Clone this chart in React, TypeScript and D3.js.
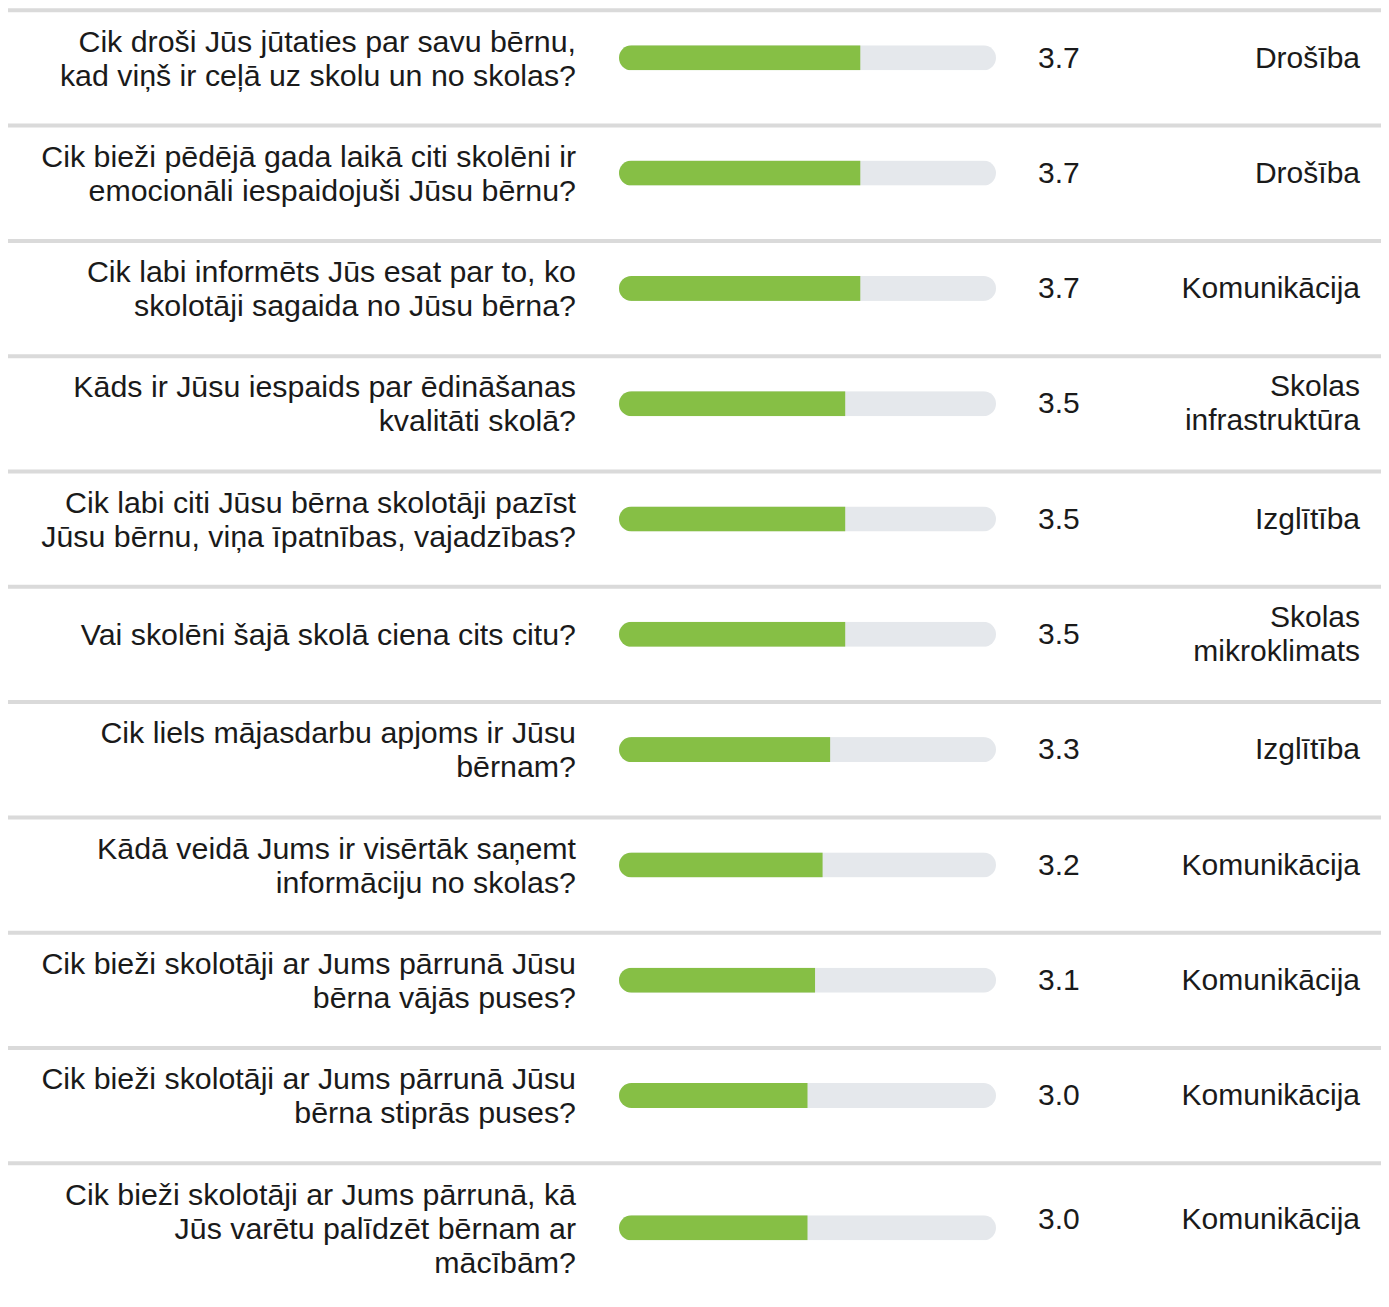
import React from "react";
import * as d3 from "d3";

const questions: string[] = [
  "Cik droši Jūs jūtaties par savu bērnu,\nkad viņš ir ceļā uz skolu un no skolas?",
  "Cik bieži pēdējā gada laikā citi skolēni ir\nemocionāli iespaidojuši Jūsu bērnu?",
  "Cik labi informēts Jūs esat par to, ko\nskolotāji sagaida no Jūsu bērna?",
  "Kāds ir Jūsu iespaids par ēdināšanas\nkvalitāti skolā?",
  "Cik labi citi Jūsu bērna skolotāji pazīst\nJūsu bērnu, viņa īpatnības, vajadzības?",
  "Vai skolēni šajā skolā ciena cits citu?",
  "Cik liels mājasdarbu apjoms ir Jūsu\nbērnam?",
  "Kādā veidā Jums ir visērtāk saņemt\ninformāciju no skolas?",
  "Cik bieži skolotāji ar Jums pārrunā Jūsu\nbērna vājās puses?",
  "Cik bieži skolotāji ar Jums pārrunā Jūsu\nbērna stiprās puses?",
  "Cik bieži skolotāji ar Jums pārrunā, kā\nJūs varētu palīdzēt bērnam ar\nmācībām?",
];

const values: number[] = [3.7, 3.7, 3.7, 3.5, 3.5, 3.5, 3.3, 3.2, 3.1, 3.0, 3.0];

const categories: string[] = [
  "Drošība",
  "Drošība",
  "Komunikācija",
  "Skolas\ninfrastruktūra",
  "Izglītība",
  "Skolas\nmikroklimats",
  "Izglītība",
  "Komunikācija",
  "Komunikācija",
  "Komunikācija",
  "Komunikācija",
];

const scaleDomain: [number, number] = [0.5, 5.5];

const W = 1389;
const H = 1307;
const FONT = "'Liberation Sans', Arial, Helvetica, sans-serif";
const FS = 30;
const QFS = 30.35;
const LINE = 34;
const CAP = 10.7;

export default function App() {
  const x = d3.scaleLinear().domain(scaleDomain).range([619, 996]);
  const trackH = 25;

  let sep = 10.3;
  const rows = questions.map((q, i) => {
    const qLines = q.split("\n");
    const cLines = categories[i].split("\n");
    const n = Math.max(2, qLines.length, cLines.length);
    const h = n * LINE;
    const center = sep + 13.5 + h / 2;
    const valCenter = center - (h - 68) / 4;
    const row = { i, sep, qLines, cLines, center, valCenter, h };
    sep = sep + 13.5 + h + 33.8;
    return row;
  });

  return (
    <svg
      width={W}
      height={H}
      style={{ position: "absolute", left: 0, top: 0, background: "#fff" }}
      fontFamily={FONT}
    >
      <defs>
        {rows.map((r) => (
          <clipPath id={`trk${r.i}`} key={r.i}>
            <rect
              x={x(scaleDomain[0])}
              y={r.center - trackH / 2}
              width={x(scaleDomain[1]) - x(scaleDomain[0])}
              height={trackH}
              rx={trackH / 2}
            />
          </clipPath>
        ))}
      </defs>
      {rows.map((r) => (
        <g key={r.i}>
          <line x1={8} x2={1381} y1={r.sep} y2={r.sep} stroke="#dadada" strokeWidth={4} />
          {r.qLines.map((t, k) => (
            <text
              key={k}
              x={576}
              y={r.center + (k - (r.qLines.length - 1) / 2) * LINE + CAP}
              textAnchor="end"
              fontSize={QFS}
              fill="#1a1a1a"
            >
              {t}
            </text>
          ))}
          <g clipPath={`url(#trk${r.i})`}>
            <rect
              x={x(scaleDomain[0])}
              y={r.center - trackH / 2}
              width={x(scaleDomain[1]) - x(scaleDomain[0])}
              height={trackH}
              fill="#e5e8ec"
            />
            <rect
              x={x(scaleDomain[0])}
              y={r.center - trackH / 2}
              width={x(values[r.i]) - x(scaleDomain[0])}
              height={trackH}
              fill="#86bf45"
            />
          </g>
          <text x={1038} y={r.valCenter + CAP - 1} fontSize={FS} fill="#1a1a1a">
            {values[r.i].toFixed(1)}
          </text>
          {r.cLines.map((t, k) => (
            <text
              key={k}
              x={1360}
              y={r.valCenter + (k - (r.cLines.length - 1) / 2) * LINE + CAP - 1}
              textAnchor="end"
              fontSize={FS}
              fill="#1a1a1a"
            >
              {t}
            </text>
          ))}
        </g>
      ))}
    </svg>
  );
}
